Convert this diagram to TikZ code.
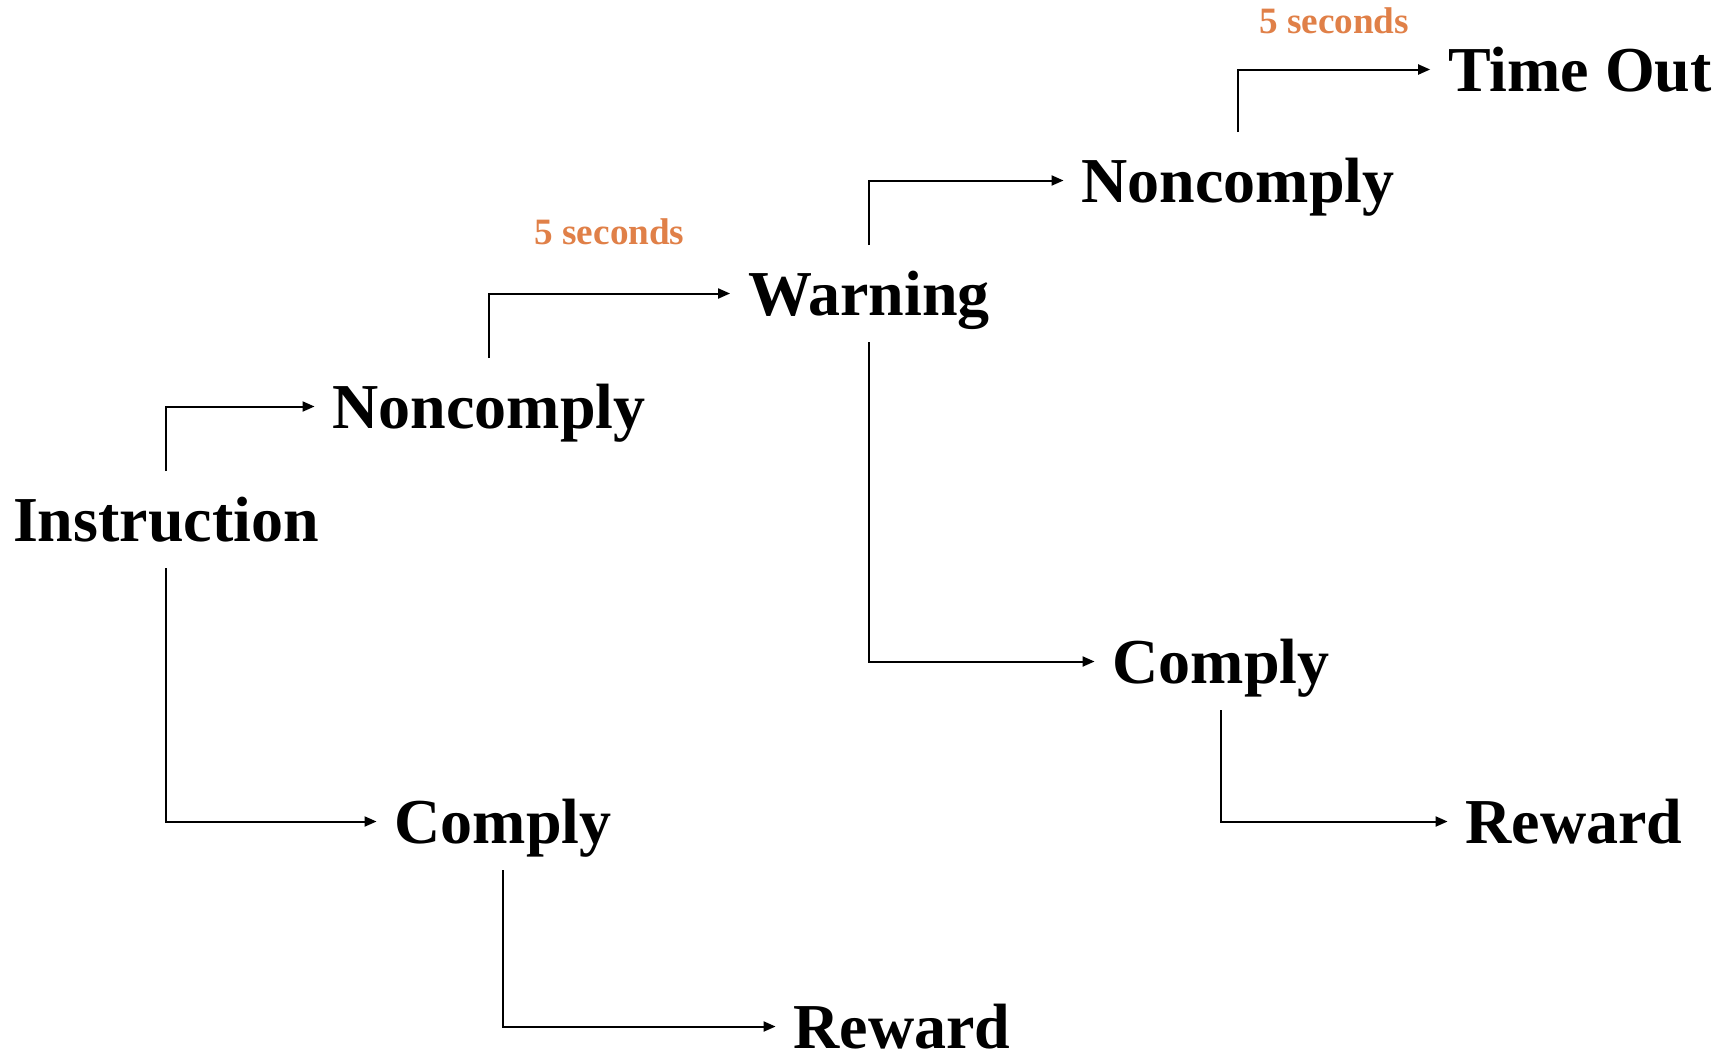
\documentclass[tikz,border=0pt]{standalone}
\usepackage{fontspec}
\setmainfont{Liberation Serif}
\usepackage{tikz}
\usetikzlibrary{arrows.meta}
\definecolor{delayorange}{RGB}{224,128,72}
\tikzstyle{stage}=[font=\fontsize{32}{36}\selectfont\bfseries, inner sep=0, outer xsep=9pt, outer ysep=1pt,
                   text height=34pt, text depth=12.5pt, anchor=base]
\tikzstyle{flow}=[line width=1pt, -{Triangle[length=6pt, width=5pt]}]
\tikzstyle{delay}=[font=\fontsize{18.6}{20}\selectfont\bfseries, text=delayorange, inner sep=0]
\tikzstyle{protocol}=[x=0.5pt, y=-0.5pt,
                      % Fix the page to the size of the drawing.
                      execute at begin picture={\useasboundingbox (0, 0) rectangle (1732, 1055);}]

\begin{document}
\begin{tikzpicture}[protocol]
        \node[stage] (instruction) at (166, 541) {Instruction};
        \node[stage] (noncomplyA) at (489, 428) {Noncomply};
        \node[stage] (complyA) at (503, 843) {Comply};
        \node[stage] (rewardA) at (902, 1048) {Reward};
        \node[stage] (warning) at (869, 315) {Warning};
        \node[stage] (noncomplyB) at (1238, 202) {Noncomply};
        \node[stage] (complyB) at (1221, 683) {Comply};
        \node[stage] (rewardB) at (1574, 843) {Reward};
        \node[stage] (timeout) at (1580, 91) {Time Out};
        \draw[flow] (instruction.north) |- (noncomplyA.west);
        \draw[flow] (instruction.south) |- (complyA.west);
        \draw[flow] (noncomplyA.north) |- node[delay, pos=0.75, above=24pt] {5 seconds} (warning.west);
        \draw[flow] (complyA.south) |- (rewardA.west);
        \draw[flow] (warning.north) |- (noncomplyB.west);
        \draw[flow] (warning.south) |- (complyB.west);
        \draw[flow] (noncomplyB.north) |- node[delay, pos=0.75, above=17.5pt] {5 seconds} (timeout.west);
        \draw[flow] (complyB.south) |- (rewardB.west);
    \end{tikzpicture}
\end{document}
